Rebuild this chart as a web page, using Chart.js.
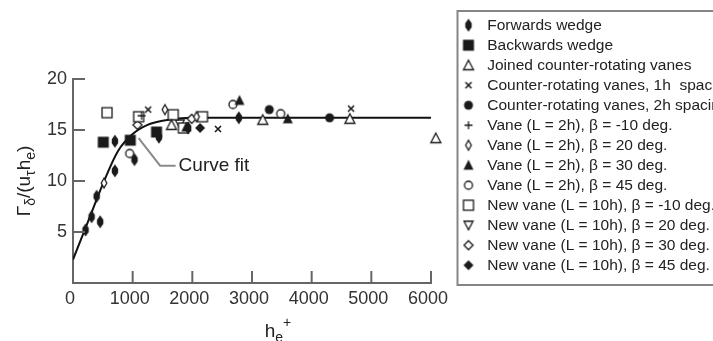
<!DOCTYPE html>
<html>
<head>
<meta charset="utf-8">
<script src="https://cdn.jsdelivr.net/npm/chart.js@4"></script>
<style>
html, body { margin: 0; padding: 0; overflow: hidden; background: #fff; }
#wrap { width: 723px; height: 341px; position: relative; }
</style>
</head>
<body>
<div id="wrap"><canvas id="chart"></canvas></div>
<script>
// values (x = he+, y = Gamma_delta/(u_tau h_e))
const seriesNames = [
  "Forwards wedge",
  "Backwards wedge",
  "Joined counter-rotating vanes",
  "Counter-rotating vanes, 1h  spacing",
  "Counter-rotating vanes, 2h spacing",
  "Vane (L = 2h), β = -10 deg.",
  "Vane (L = 2h), β = 20 deg.",
  "Vane (L = 2h), β = 30 deg.",
  "Vane (L = 2h), β = 45 deg.",
  "New vane (L = 10h), β = -10 deg.",
  "New vane (L = 10h), β = 20 deg.",
  "New vane (L = 10h), β = 30 deg.",
  "New vane (L = 10h), β = 45 deg."
];

const fwdWedgeX = [210, 312, 455, 396, 702, 702, 1030, 1440, 1930, 2780];
const fwdWedgeY = [5.2, 6.5, 6.0, 8.5, 11.0, 13.9, 12.1, 14.3, 15.2, 16.2];
const bwdWedgeX = [507, 960, 1400];
const bwdWedgeY = [13.8, 14.0, 14.8];
const joinedX = [1650, 3180, 4640, 6080];
const joinedY = [15.5, 16.0, 16.1, 14.2];
const cr1hX = [1260, 2430, 4660];
const cr1hY = [17.0, 15.1, 17.1];
const cr2hX = [3290, 4300];
const cr2hY = [17.0, 16.2];
const vaneM10X = [1150];
const vaneM10Y = [16.4];
const vane20X = [520, 1540, 2070];
const vane20Y = [9.8, 17.0, 16.3];
const vane30X = [1900, 2790, 3600];
const vane30Y = [15.3, 17.9, 16.1];
const vane45X = [950, 2680, 3480];
const vane45Y = [12.7, 17.5, 16.6];
const newM10X = [570, 1100, 1680, 1850, 2170];
const newM10Y = [16.7, 16.3, 16.5, 15.2, 16.3];
const new20X = [1790];
const new20Y = [15.6];
const new30X = [1080, 1990];
const new30Y = [15.5, 16.1];
const new45X = [2130];
const new45Y = [15.2];

const fitX = [0, 250, 500, 750, 1000, 1250, 1500, 2000, 6050];
const fitY = [2.3, 6.0, 9.7, 12.9, 14.6, 15.5, 15.9, 16.2, 16.2];

const xTickValues = [1000, 2000, 3000, 4000, 5000, 6000];
const yTickValues = [5, 10, 15, 20];

const ink = "#1a1a1a";
const axisColor = "#666";

function pts(xs, ys) {
  return xs.map((x, i) => ({ x: x, y: ys[i] }));
}

// little canvases used as point styles (plot and legend)
function marker(size, draw) {
  const c = document.createElement("canvas");
  c.width = c.height = size;
  const g = c.getContext("2d");
  g.translate(size / 2, size / 2);
  g.strokeStyle = ink;
  g.fillStyle = ink;
  g.lineWidth = 1.3;
  draw(g);
  return c;
}
function poly(g, p, filled) {
  g.beginPath();
  g.moveTo(p[0][0], p[0][1]);
  for (let i = 1; i < p.length; i++) g.lineTo(p[i][0], p[i][1]);
  g.closePath();
  if (filled) { g.fill(); } else { g.fillStyle = "#fff"; g.fill(); g.stroke(); }
}

const markers = [
  marker(16, g => poly(g, [[0, -6.5], [3.2, -2], [3.2, 2], [0, 6.5], [-3.2, 2], [-3.2, -2]], true)),
  marker(14, g => g.fillRect(-5.5, -5.5, 11, 11)),
  marker(14, g => poly(g, [[0, -5], [5, 4.5], [-5, 4.5]], false)),
  marker(12, g => { g.lineWidth = 1.6; g.beginPath(); g.moveTo(-3, -3); g.lineTo(3, 3); g.moveTo(3, -3); g.lineTo(-3, 3); g.stroke(); }),
  marker(12, g => { g.beginPath(); g.arc(0, 0, 4.5, 0, Math.PI * 2); g.fill(); }),
  marker(12, g => { g.beginPath(); g.moveTo(-4, 0); g.lineTo(4, 0); g.moveTo(0, -4); g.lineTo(0, 4); g.stroke(); }),
  marker(14, g => poly(g, [[0, -5], [2.8, 0], [0, 5], [-2.8, 0]], false)),
  marker(14, g => poly(g, [[0, -5.5], [5, 4.5], [-5, 4.5]], true)),
  marker(12, g => { g.beginPath(); g.arc(0, 0, 4, 0, Math.PI * 2); g.fillStyle = "#fff"; g.fill(); g.stroke(); }),
  marker(14, g => { g.fillStyle = "#fff"; g.fillRect(-5, -5, 10, 10); g.strokeRect(-5, -5, 10, 10); }),
  marker(12, g => poly(g, [[-4.5, -4], [4.5, -4], [0, 4.5]], false)),
  marker(12, g => poly(g, [[0, -4.5], [4.5, 0], [0, 4.5], [-4.5, 0]], false)),
  marker(14, g => poly(g, [[0, -5], [5, 0], [0, 5], [-5, 0]], true))
];

const seriesData = [
  pts(fwdWedgeX, fwdWedgeY),
  pts(bwdWedgeX, bwdWedgeY),
  pts(joinedX, joinedY),
  pts(cr1hX, cr1hY),
  pts(cr2hX, cr2hY),
  pts(vaneM10X, vaneM10Y),
  pts(vane20X, vane20Y),
  pts(vane30X, vane30Y),
  pts(vane45X, vane45Y),
  pts(newM10X, newM10Y),
  pts(new20X, new20Y),
  pts(new30X, new30Y),
  pts(new45X, new45Y)
];

const datasets = seriesNames.map((name, i) => ({
  label: name,
  data: seriesData[i],
  pointStyle: markers[i],
  pointRadius: 7,
  pointHoverRadius: 7,
  clip: false
}));
datasets.push({
  label: "Curve fit",
  data: pts(fitX, fitY),
  showLine: true,
  borderColor: "#111",
  borderWidth: 2,
  pointRadius: 0,
  cubicInterpolationMode: "monotone"
});

function richText(ctx, parts, cx, baseY) {
  const fonts = { main: "19px 'Liberation Sans'", sub: "14px 'Liberation Sans'" };
  let total = 0;
  parts.forEach(p => { ctx.font = p[1] === "main" ? fonts.main : fonts.sub; total += ctx.measureText(p[0]).width; });
  let xx = cx - total / 2;
  parts.forEach(p => {
    ctx.font = p[1] === "main" ? fonts.main : fonts.sub;
    const dy = p[1] === "sub" ? 5 : p[1] === "sup" ? -10 : 0;
    ctx.fillText(p[0], xx, baseY + dy);
    xx += ctx.measureText(p[0]).width;
  });
}

const extras = {
  id: "extras",
  beforeDatasetsDraw(chart) {
    const { ctx, scales: { x, y } } = chart;
    // leader line of the "Curve fit" label
    ctx.save();
    ctx.strokeStyle = "#8a8a8a";
    ctx.lineWidth = 2;
    ctx.beginPath();
    ctx.moveTo(x.getPixelForValue(1100), y.getPixelForValue(14.2));
    ctx.lineTo(x.getPixelForValue(1460), y.getPixelForValue(11.5));
    ctx.lineTo(x.getPixelForValue(1720), y.getPixelForValue(11.5));
    ctx.stroke();
    ctx.restore();
  },
  afterDraw(chart) {
    const { ctx, chartArea: a, scales: { x, y }, legend } = chart;
    ctx.save();
    // inward tick marks
    ctx.strokeStyle = axisColor;
    ctx.lineWidth = 2;
    ctx.beginPath();
    xTickValues.forEach(v => {
      const px = x.getPixelForValue(v);
      ctx.moveTo(px, a.bottom);
      ctx.lineTo(px, a.bottom - 12);
    });
    yTickValues.forEach(v => {
      const py = y.getPixelForValue(v);
      ctx.moveTo(a.left, py);
      ctx.lineTo(a.left + 12, py);
    });
    ctx.stroke();

    // "Curve fit" label
    ctx.fillStyle = "#222";
    ctx.font = "19px 'Liberation Sans'";
    ctx.textBaseline = "middle";
    ctx.textAlign = "left";
    ctx.fillText("Curve fit", x.getPixelForValue(1770), y.getPixelForValue(11.5));

    // legend frame
    ctx.strokeStyle = "#858585";
    ctx.lineWidth = 2;
    ctx.strokeRect(legend.left + 4.5, 11, 400, 274);

    // axis titles
    ctx.textBaseline = "alphabetic";
    ctx.fillStyle = "#222";
    richText(ctx, [["h", "main"], ["e", "sub"], ["+", "sup"]], a.left + 205, 337);
    ctx.translate(30, (a.top + a.bottom) / 2);
    ctx.rotate(-Math.PI / 2);
    richText(ctx, [["Γ", "main"], ["δ", "sub"], ["/(u", "main"], ["τ", "sub"], ["h", "main"], ["e", "sub"], [")", "main"]], 0, 0);
    ctx.restore();
  }
};

Chart.defaults.font.family = "'Liberation Sans', Arial, sans-serif";

new Chart(document.getElementById("chart"), {
  type: "scatter",
  data: { datasets: datasets },
  options: {
    responsive: true,
    maintainAspectRatio: false,
    animation: false,
    events: [],
    layout: { padding: { top: 13, left: 0, right: 0, bottom: 0 } },
    scales: {
      x: {
        type: "linear",
        min: 0,
        max: 6000,
        grid: { drawOnChartArea: false, drawTicks: false },
        border: { display: true, color: axisColor, width: 2 },
        ticks: { stepSize: 1000, color: "#333", font: { size: 18 }, padding: 5, labelOffset: -3, maxRotation: 0, callback: v => String(v) },
        afterFit: s => { s.height = 58; }
      },
      y: {
        min: 0,
        max: 20,
        grid: { drawOnChartArea: false, drawTicks: false },
        border: { display: true, color: axisColor, width: 2 },
        ticks: { stepSize: 5, color: "#333", font: { size: 18 }, padding: 6, callback: v => (v === 0 ? "" : String(v)) },
        afterFit: s => { s.width = 73; }
      },
      yR: {
        position: "right",
        display: true,
        grid: { display: false, drawTicks: false },
        border: { display: false },
        ticks: { display: false },
        afterFit: s => { s.width = 22; }
      }
    },
    plugins: {
      title: { display: true, text: "", font: { size: 10 }, padding: { top: 0, bottom: 54 } },
      tooltip: { enabled: false },
      legend: {
        position: "right",
        align: "start",
        maxWidth: 270,
        labels: {
          usePointStyle: true,
          pointStyleWidth: 22,
          padding: 4.5,
          color: "#222",
          font: { size: 15.5 },
          filter: item => item.datasetIndex < seriesNames.length
        }
      }
    }
  },
  plugins: [extras]
});
</script>
</body>
</html>
